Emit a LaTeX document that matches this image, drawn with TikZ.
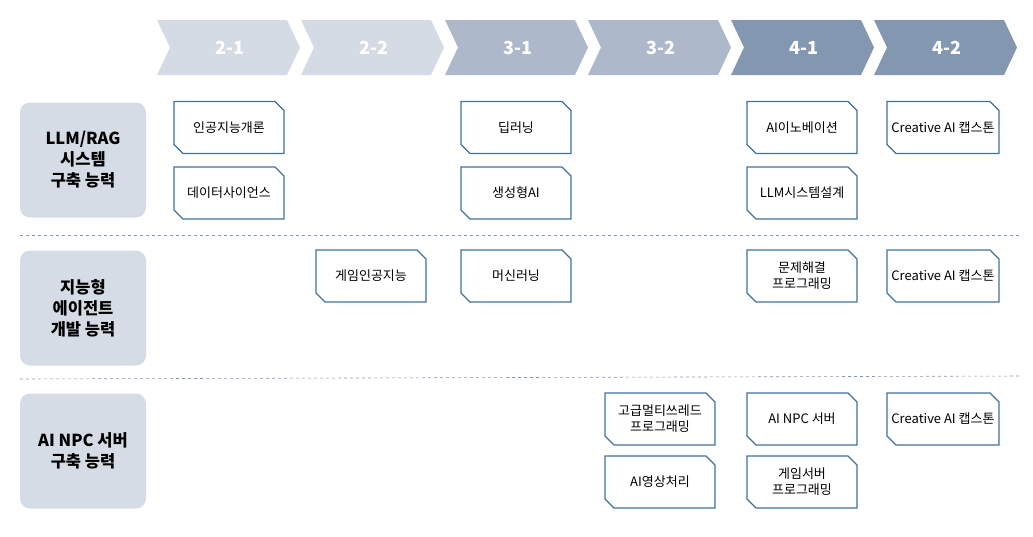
\documentclass[tikz,border=0pt]{standalone}
\usepackage{fontspec}
\setmainfont{Noto Sans CJK KR}
\usetikzlibrary{shapes.misc}
\definecolor{cA}{HTML}{D5DBE5}
\definecolor{cB}{HTML}{ADB9CA}
\definecolor{cC}{HTML}{8497B0}
\definecolor{edge}{HTML}{41719C}
\definecolor{lab}{HTML}{D6DCE5}
\tikzset{
 course/.style={draw=edge,line width=1.3pt,fill=white,minimum width=110pt,minimum height=52pt,
   chamfered rectangle,chamfered rectangle corners={north east,south west},chamfered rectangle xsep=4.5pt,chamfered rectangle ysep=4.5pt,
   font=\fontsize{13}{16}\selectfont,align=center,inner sep=0pt},
 rowlab/.style={fill=lab,rounded corners=10pt,minimum width=126pt,minimum height=115pt,align=center,font=\fontsize{16.5}{21}\selectfont\bfseries},
 sep/.style={draw=cC,dashed,line width=0.6pt}
}
\newcommand{\chev}[4]{% x, color, text, name
 \fill[#2] (#1,20) -- (#1+130,20) -- (#1+143,47.5) -- (#1+130,75) -- (#1,75) -- (#1+13,47.5) -- cycle;
 \node[font=\fontsize{18}{20}\selectfont\bfseries,text=white] (#4) at (#1+73,47.5) {#3};}
\begin{document}
\begin{tikzpicture}[x=1pt,y=-1pt]
\useasboundingbox (0,0) rectangle (1033,536);
\chev{157}{cA}{2-1}{c1}
\chev{301}{cA}{2-2}{c2}
\chev{445}{cB}{3-1}{c3}
\chev{588}{cB}{3-2}{c4}
\chev{731}{cC}{4-1}{c5}
\chev{874}{cC}{4-2}{c6}
\node[rowlab] (r1) at (83,160) {LLM/RAG\\시스템\\구축 능력};
\node[rowlab] (r2) at (83,308) {지능형\\에이전트\\개발 능력};
\node[rowlab] (r3) at (83,451) {AI NPC 서버\\구축 능력};
\draw[sep] (20,235) -- (1022,235);
\draw[sep] (20,379) -- (1022,376);
\node[course] (b1) at (229,127.5) {인공지능개론};
\node[course] (b2) at (229,193) {데이터사이언스};
\node[course] (b3) at (516,127.5) {딥러닝};
\node[course] (b4) at (516,193) {생성형AI};
\node[course] (b5) at (802,127.5) {AI이노베이션};
\node[course] (b6) at (802,193) {LLM시스템설계};
\node[course] (b7) at (943,127.5) {Creative AI 캡스톤};
\node[course] (b8) at (371,276) {게임인공지능};
\node[course] (b9) at (516,276) {머신러닝};
\node[course] (b10) at (802,276) {문제해결\\프로그래밍};
\node[course] (b11) at (943,276) {Creative AI 캡스톤};
\node[course] (b12) at (660,419) {고급멀티쓰레드\\프로그래밍};
\node[course] (b13) at (660,482) {AI영상처리};
\node[course] (b14) at (802,419) {AI NPC 서버};
\node[course] (b15) at (802,482) {게임서버\\프로그래밍};
\node[course] (b16) at (943,419) {Creative AI 캡스톤};
\end{tikzpicture}
\end{document}
